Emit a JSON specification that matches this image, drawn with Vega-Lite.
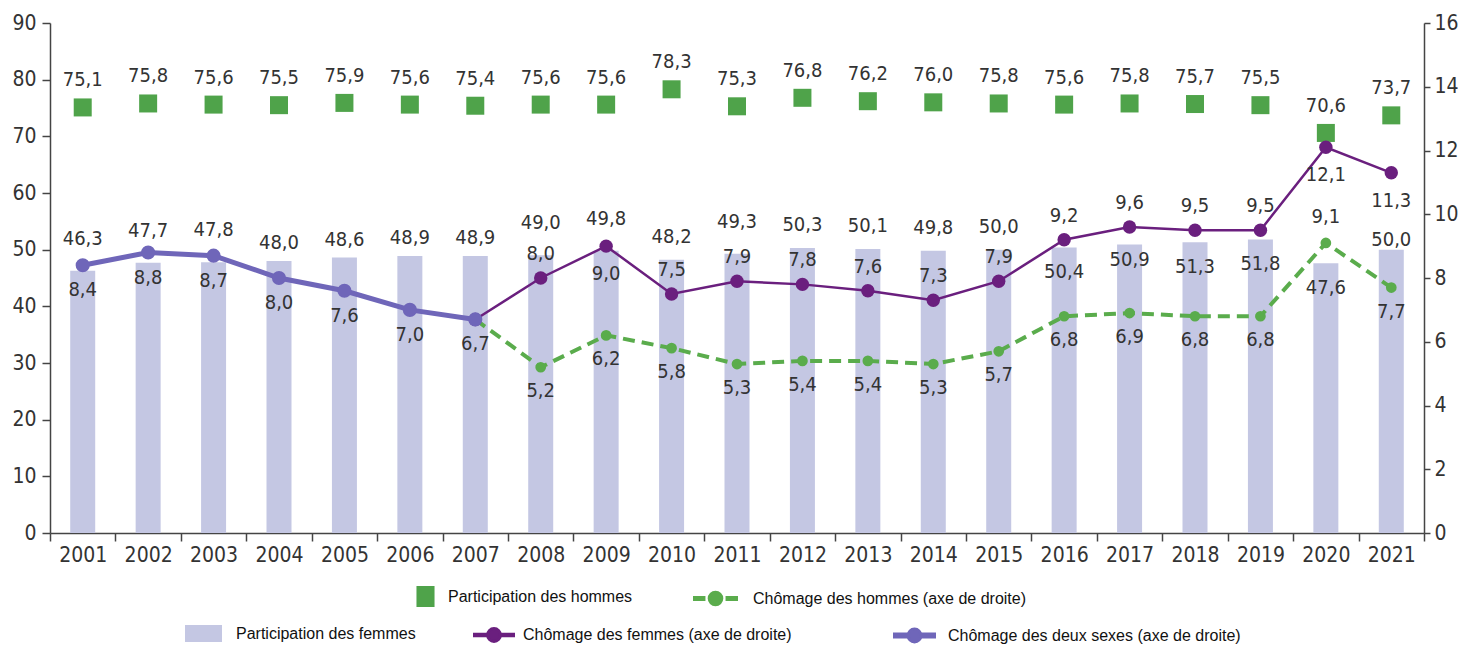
{
  "$schema": "https://vega.github.io/schema/vega-lite/v6.json",
  "width": 1374,
  "height": 510,
  "autosize": {"type": "none"},
  "padding": {"left": 50, "top": 23, "right": 34, "bottom": 113},
  "background": "white",
  "config": {
    "locale": {"number": {"decimal": ",", "thousands": " ", "grouping": [3], "currency": ["", " €"]}},
    "view": {"stroke": null},
    "axis": {
      "labelFont": "DejaVu Sans Condensed, Liberation Sans, sans-serif",
      "labelColor": "#333333",
      "labelFontSize": 21,
      "domainColor": "#444444",
      "domainWidth": 1.5,
      "tickColor": "#444444",
      "tickWidth": 1.5,
      "grid": false,
      "title": null
    },
    "text": {"font": "DejaVu Sans Condensed, Liberation Sans, sans-serif", "fontSize": 20, "color": "#333333", "baseline": "middle", "align": "center"},
    "legend": {
      "labelFont": "Liberation Sans",
      "labelFontSize": 16,
      "labelColor": "#111111",
      "labelLimit": 500,
      "title": null,
      "orient": "none",
      "padding": 0,
      "symbolOpacity": 1
    }
  },
  "data": {
    "values": [
      {"year": 2001, "femmes": 46.3, "hommes": 75.1, "chom_f": null, "chom_h": null, "chom_2": 8.4},
      {"year": 2002, "femmes": 47.7, "hommes": 75.8, "chom_f": null, "chom_h": null, "chom_2": 8.8},
      {"year": 2003, "femmes": 47.8, "hommes": 75.6, "chom_f": null, "chom_h": null, "chom_2": 8.7},
      {"year": 2004, "femmes": 48.0, "hommes": 75.5, "chom_f": null, "chom_h": null, "chom_2": 8.0},
      {"year": 2005, "femmes": 48.6, "hommes": 75.9, "chom_f": null, "chom_h": null, "chom_2": 7.6},
      {"year": 2006, "femmes": 48.9, "hommes": 75.6, "chom_f": null, "chom_h": null, "chom_2": 7.0},
      {"year": 2007, "femmes": 48.9, "hommes": 75.4, "chom_f": 6.7, "chom_h": 6.7, "chom_2": 6.7},
      {"year": 2008, "femmes": 49.0, "hommes": 75.6, "chom_f": 8.0, "chom_h": 5.2, "chom_2": null},
      {"year": 2009, "femmes": 49.8, "hommes": 75.6, "chom_f": 9.0, "chom_h": 6.2, "chom_2": null},
      {"year": 2010, "femmes": 48.2, "hommes": 78.3, "chom_f": 7.5, "chom_h": 5.8, "chom_2": null},
      {"year": 2011, "femmes": 49.3, "hommes": 75.3, "chom_f": 7.9, "chom_h": 5.3, "chom_2": null},
      {"year": 2012, "femmes": 50.3, "hommes": 76.8, "chom_f": 7.8, "chom_h": 5.4, "chom_2": null},
      {"year": 2013, "femmes": 50.1, "hommes": 76.2, "chom_f": 7.6, "chom_h": 5.4, "chom_2": null},
      {"year": 2014, "femmes": 49.8, "hommes": 76.0, "chom_f": 7.3, "chom_h": 5.3, "chom_2": null},
      {"year": 2015, "femmes": 50.0, "hommes": 75.8, "chom_f": 7.9, "chom_h": 5.7, "chom_2": null},
      {"year": 2016, "femmes": 50.4, "hommes": 75.6, "chom_f": 9.2, "chom_h": 6.8, "chom_2": null},
      {"year": 2017, "femmes": 50.9, "hommes": 75.8, "chom_f": 9.6, "chom_h": 6.9, "chom_2": null},
      {"year": 2018, "femmes": 51.3, "hommes": 75.7, "chom_f": 9.5, "chom_h": 6.8, "chom_2": null},
      {"year": 2019, "femmes": 51.8, "hommes": 75.5, "chom_f": 9.5, "chom_h": 6.8, "chom_2": null},
      {"year": 2020, "femmes": 47.6, "hommes": 70.6, "chom_f": 12.1, "chom_h": 9.1, "chom_2": null},
      {"year": 2021, "femmes": 50.0, "hommes": 73.7, "chom_f": 11.3, "chom_h": 7.7, "chom_2": null}
    ]
  },
  "encoding": {
    "x": {
      "field": "year",
      "type": "ordinal",
      "scale": {"paddingInner": 0, "paddingOuter": 0},
      "axis": {"labelAngle": 0, "tickBand": "extent", "tickSize": 8, "labelPadding": 3}
    }
  },
  "layer": [
    {
      "resolve": {"scale": {"color": "independent"}},
      "layer": [
        {
          "mark": {"type": "bar", "size": 25},
          "encoding": {
            "y": {"field": "femmes", "type": "quantitative", "scale": {"domain": [0, 90], "nice": false},
                  "axis": {"values": [0, 10, 20, 30, 40, 50, 60, 70, 80, 90], "tickSize": 8, "labelPadding": 6}},
            "color": {"datum": "Participation des femmes", "type": "nominal", "scale": {"range": ["#c4c7e3"]},
                      "legend": {"legendX": 135, "legendY": 592, "symbolType": "M-1,-0.46H1V0.46H-1Z", "symbolSize": 1369, "symbolStrokeWidth": 0, "labelOffset": 14}}
          }
        },
        {
          "transform": [{"filter": {"field": "year", "oneOf": [2001, 2002, 2003, 2008, 2009, 2011]}}],
          "mark": {"type": "text", "dy": -32},
          "encoding": {"y": {"field": "femmes", "type": "quantitative"}, "text": {"field": "femmes", "type": "quantitative", "format": ".1f"}}
        },
        {
          "transform": [{"filter": {"field": "year", "oneOf": [2010, 2012, 2013, 2014, 2015]}}],
          "mark": {"type": "text", "dy": -23},
          "encoding": {"y": {"field": "femmes", "type": "quantitative"}, "text": {"field": "femmes", "type": "quantitative", "format": ".1f"}}
        },
        {
          "transform": [{"filter": {"field": "year", "oneOf": [2004, 2005, 2006, 2007]}}],
          "mark": {"type": "text", "dy": -18},
          "encoding": {"y": {"field": "femmes", "type": "quantitative"}, "text": {"field": "femmes", "type": "quantitative", "format": ".1f"}}
        },
        {
          "transform": [{"filter": {"field": "year", "oneOf": [2021]}}],
          "mark": {"type": "text", "dy": -10},
          "encoding": {"y": {"field": "femmes", "type": "quantitative"}, "text": {"field": "femmes", "type": "quantitative", "format": ".1f"}}
        },
        {
          "transform": [{"filter": {"field": "year", "oneOf": [2016, 2018, 2019, 2020]}}],
          "mark": {"type": "text", "dy": 25},
          "encoding": {"y": {"field": "femmes", "type": "quantitative"}, "text": {"field": "femmes", "type": "quantitative", "format": ".1f"}}
        },
        {
          "transform": [{"filter": {"field": "year", "oneOf": [2017]}}],
          "mark": {"type": "text", "dy": 15},
          "encoding": {"y": {"field": "femmes", "type": "quantitative"}, "text": {"field": "femmes", "type": "quantitative", "format": ".1f"}}
        },
        {
          "mark": {"type": "tick", "size": 18, "thickness": 18, "opacity": 1},
          "encoding": {
            "y": {"field": "hommes", "type": "quantitative"},
            "color": {"datum": "Participation des hommes", "type": "nominal", "scale": {"range": ["#4fa34a"]},
                      "legend": {"legendX": 365, "legendY": 563, "symbolType": "M-0.86,-1H0.86V1H-0.86Z", "symbolSize": 441, "symbolStrokeWidth": 0, "symbolFillColor": "#4fa34a", "labelOffset": 12}}
          }
        },
        {
          "mark": {"type": "text", "dy": -27},
          "encoding": {"y": {"field": "hommes", "type": "quantitative"}, "text": {"field": "hommes", "type": "quantitative", "format": ".1f"}}
        }
      ]
    },
    {
      "resolve": {"scale": {"color": "independent"}},
      "layer": [
        {
          "mark": {"type": "line", "strokeWidth": 4, "strokeDash": [12, 7]},
          "encoding": {
            "y": {"field": "chom_h", "type": "quantitative", "scale": {"domain": [0, 16], "nice": false},
                  "axis": {"orient": "right", "values": [0, 2, 4, 6, 8, 10, 12, 14, 16], "tickSize": 6, "labelPadding": 4}},
            "color": {"datum": "Chômage des hommes (axe de droite)", "type": "nominal", "scale": {"range": ["#5aac4c"]},
                      "legend": {"legendX": 643, "legendY": 553, "symbolType": "M-1,-0.05H-0.55V0.05H-1Z M0.55,-0.05H1V0.05H0.55Z M-0.3,0A0.3,0.3 0 1,1 0.3,0A0.3,0.3 0 1,1 -0.3,0Z", "symbolSize": 1764, "symbolStrokeWidth": 3, "symbolDash": [], "symbolFillColor": "#5aac4c", "labelOffset": 15}}
          }
        },
        {
          "mark": {"type": "point", "filled": true, "size": 115, "color": "#5aac4c", "opacity": 1},
          "encoding": {"y": {"field": "chom_h", "type": "quantitative"}}
        },
        {
          "mark": {"type": "line", "strokeWidth": 2.5},
          "encoding": {
            "y": {"field": "chom_f", "type": "quantitative"},
            "color": {"datum": "Chômage des femmes (axe de droite)", "type": "nominal", "scale": {"range": ["#6a1f7e"]},
                      "legend": {"legendX": 423, "legendY": 591, "symbolType": "M-1,-0.04H-0.33V0.04H-1Z M0.33,-0.04H1V0.04H0.33Z M-0.33,0A0.33,0.33 0 1,1 0.33,0A0.33,0.33 0 1,1 -0.33,0Z", "symbolSize": 1521, "symbolStrokeWidth": 3, "symbolFillColor": "#6a1f7e", "labelOffset": 8}}
          }
        },
        {
          "mark": {"type": "point", "filled": true, "size": 180, "color": "#6a1f7e", "opacity": 1},
          "encoding": {"y": {"field": "chom_f", "type": "quantitative"}}
        },
        {
          "mark": {"type": "line", "strokeWidth": 5},
          "encoding": {
            "y": {"field": "chom_2", "type": "quantitative"},
            "color": {"datum": "Chômage des deux sexes (axe de droite)", "type": "nominal", "scale": {"range": ["#6f66b9"]},
                      "legend": {"legendX": 843, "legendY": 591, "symbolType": "M-1,-0.07H-0.32V0.07H-1Z M0.32,-0.07H1V0.07H0.32Z M-0.32,0A0.32,0.32 0 1,1 0.32,0A0.32,0.32 0 1,1 -0.32,0Z", "symbolSize": 1600, "symbolStrokeWidth": 3, "symbolFillColor": "#6f66b9", "labelOffset": 12}}
          }
        },
        {
          "mark": {"type": "point", "filled": true, "size": 200, "color": "#6f66b9", "opacity": 1},
          "encoding": {"y": {"field": "chom_2", "type": "quantitative"}}
        },
        {
          "mark": {"type": "text", "dy": 25},
          "encoding": {"y": {"field": "chom_2", "type": "quantitative"}, "text": {"field": "chom_2", "type": "quantitative", "format": ".1f"}}
        },
        {
          "transform": [{"filter": {"field": "year", "oneOf": [2008, 2010, 2011, 2012, 2013, 2014, 2015, 2016, 2017, 2018, 2019]}}],
          "mark": {"type": "text", "dy": -24},
          "encoding": {"y": {"field": "chom_f", "type": "quantitative"}, "text": {"field": "chom_f", "type": "quantitative", "format": ".1f"}}
        },
        {
          "transform": [{"filter": {"field": "year", "oneOf": [2009, 2020, 2021]}}],
          "mark": {"type": "text", "dy": 28},
          "encoding": {"y": {"field": "chom_f", "type": "quantitative"}, "text": {"field": "chom_f", "type": "quantitative", "format": ".1f"}}
        },
        {
          "transform": [{"filter": {"field": "year", "oneOf": [2008, 2009, 2010, 2011, 2012, 2013, 2014, 2015, 2016, 2017, 2018, 2019, 2021]}}],
          "mark": {"type": "text", "dy": 24},
          "encoding": {"y": {"field": "chom_h", "type": "quantitative"}, "text": {"field": "chom_h", "type": "quantitative", "format": ".1f"}}
        },
        {
          "transform": [{"filter": {"field": "year", "oneOf": [2020]}}],
          "mark": {"type": "text", "dy": -26},
          "encoding": {"y": {"field": "chom_h", "type": "quantitative"}, "text": {"field": "chom_h", "type": "quantitative", "format": ".1f"}}
        }
      ]
    }
  ],
  "resolve": {"scale": {"y": "independent", "color": "independent"}}
}
